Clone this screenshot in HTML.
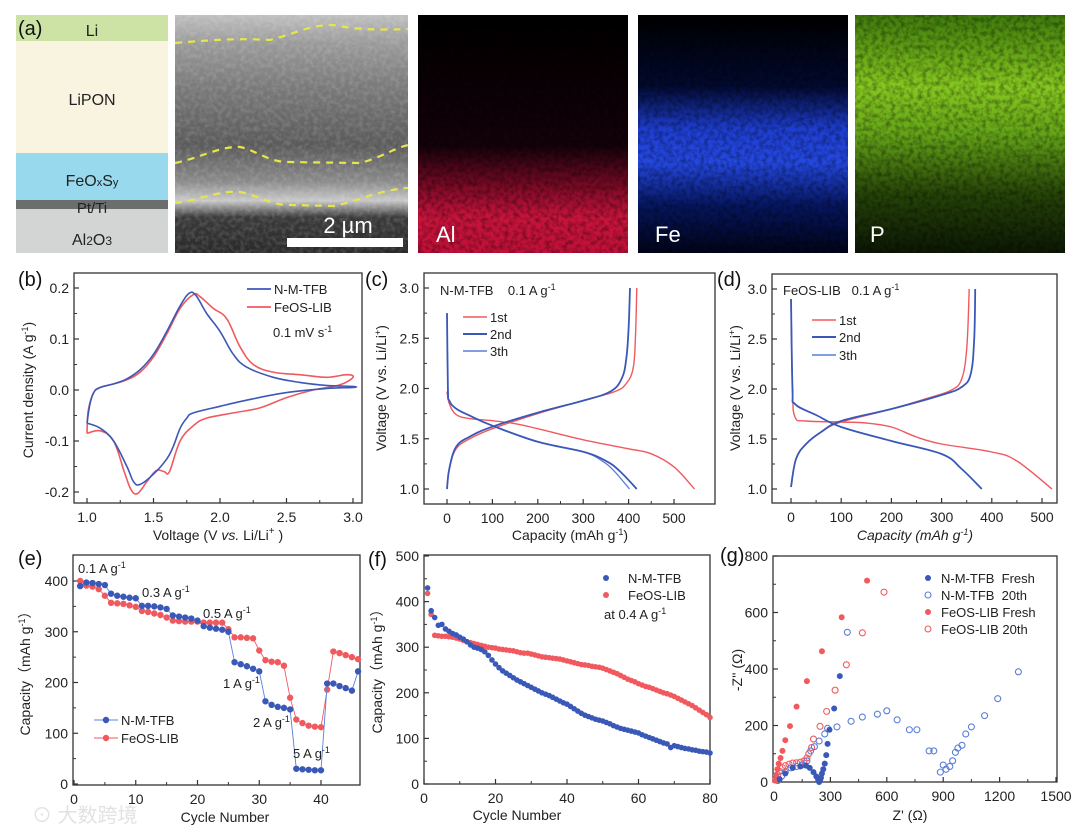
<!DOCTYPE html>
<html><head><meta charset="utf-8">
<style>
html,body{margin:0;padding:0;background:#fff;}
svg{display:block;font-family:"Liberation Sans","Noto Sans CJK SC",sans-serif;}
</style></head>
<body>
<svg id="fig" width="1080" height="831" viewBox="0 0 1080 831" xmlns="http://www.w3.org/2000/svg">
<defs>
<filter id="noise" x="0" y="0" width="100%" height="100%">
<feTurbulence type="fractalNoise" baseFrequency="0.22" numOctaves="2" seed="3" result="t"/>
<feColorMatrix in="t" type="matrix" values="0 0 0 0 0  0 0 0 0 0  0 0 0 0 0  0 0 0 1.6 -0.6" result="a"/>
<feComposite in="SourceGraphic" in2="a" operator="in"/>
</filter>
<linearGradient id="gAl" x1="0" y1="0" x2="0" y2="1">
<stop offset="0" stop-color="#000"/><stop offset="0.55" stop-color="#14020a"/><stop offset="0.72" stop-color="#7a0a26"/><stop offset="0.85" stop-color="#c8143c"/><stop offset="1" stop-color="#c01038"/>
</linearGradient>
<linearGradient id="gFe" x1="0" y1="0" x2="0" y2="1">
<stop offset="0" stop-color="#000"/><stop offset="0.3" stop-color="#020a30"/><stop offset="0.48" stop-color="#1e3ed0"/><stop offset="0.62" stop-color="#2448e0"/><stop offset="0.8" stop-color="#061660"/><stop offset="1" stop-color="#010418"/>
</linearGradient>
<linearGradient id="gP" x1="0" y1="0" x2="0" y2="1">
<stop offset="0" stop-color="#3e7a0c"/><stop offset="0.3" stop-color="#86c820"/><stop offset="0.5" stop-color="#64a418"/><stop offset="0.75" stop-color="#264408"/><stop offset="1" stop-color="#0c1804"/>
</linearGradient>
<linearGradient id="gSEM" x1="0" y1="0" x2="0" y2="1">
<stop offset="0" stop-color="#bfbfbf"/><stop offset="0.12" stop-color="#9a9a9a"/><stop offset="0.3" stop-color="#7a7a7a"/><stop offset="0.55" stop-color="#5a5a5a"/><stop offset="0.7" stop-color="#8a8a8a"/><stop offset="0.78" stop-color="#c8c8c8"/><stop offset="0.85" stop-color="#3a3a3a"/><stop offset="1" stop-color="#2a2a2a"/>
</linearGradient>
</defs>

<g>
<rect x="16" y="15" width="152" height="26" fill="#cde3a6"/>
<rect x="16" y="41" width="152" height="112" fill="#f8f4e0"/>
<rect x="16" y="153" width="152" height="47" fill="#99d9ee"/>
<rect x="16" y="200" width="152" height="9" fill="#6a6f6e"/>
<rect x="16" y="209" width="152" height="44" fill="#d3d5d4"/>
<text x="92" y="36" font-size="16" text-anchor="middle" fill="#222">Li</text>
<text x="92" y="105" font-size="16" text-anchor="middle" fill="#222">LiPON</text>
<text x="92" y="186" font-size="16" text-anchor="middle" fill="#222">FeO<tspan font-size="11">x</tspan>S<tspan font-size="11">y</tspan></text>
<text x="92" y="213" font-size="15" text-anchor="middle" fill="#222">Pt/Ti</text>
<text x="92" y="245" font-size="16" text-anchor="middle" fill="#222">Al<tspan font-size="12">2</tspan>O<tspan font-size="12">3</tspan></text>
<text x="18" y="35" font-size="20" fill="#111">(a)</text>
</g>

<g>
<rect x="175" y="15" width="233" height="238" fill="url(#gSEM)"/>
<rect x="175" y="15" width="233" height="238" fill="#fff" opacity="0.2" filter="url(#noise)"/>
<path d="M175 43 C210 40 240 38 270 40 C300 32 310 25 333 25 C360 30 380 30 408 29" stroke="#e6e64a" stroke-width="2.2" fill="none" stroke-dasharray="7,6"/>
<path d="M175 163 C200 158 220 146 240 147 C255 150 265 160 285 162 L360 163 C380 158 395 148 408 145" stroke="#e6e64a" stroke-width="2.2" fill="none" stroke-dasharray="7,6"/>
<path d="M175 203 C200 200 220 190 240 192 C260 196 270 205 290 205 L335 206 C360 200 380 190 408 188" stroke="#e6e64a" stroke-width="2.2" fill="none" stroke-dasharray="7,6"/>
<rect x="287" y="238" width="116" height="9" fill="#fff"/>
<text x="348" y="233" font-size="22" fill="#fff" text-anchor="middle">2 µm</text>
</g>

<g>
<rect x="418" y="15" width="210" height="238" fill="url(#gAl)"/>
<rect x="418" y="15" width="210" height="238" fill="#000" opacity="0.5" filter="url(#noise)"/>
<text x="436" y="242" font-size="22" fill="#fff">Al</text>
</g>
<g>
<rect x="638" y="15" width="210" height="238" fill="url(#gFe)"/>
<rect x="638" y="15" width="210" height="238" fill="#000" opacity="0.5" filter="url(#noise)"/>
<text x="655" y="242" font-size="22" fill="#fff">Fe</text>
</g>
<g>
<rect x="855" y="15" width="210" height="238" fill="url(#gP)"/>
<rect x="855" y="15" width="210" height="238" fill="#000" opacity="0.5" filter="url(#noise)"/>
<text x="870" y="242" font-size="22" fill="#fff">P</text>
</g>

<text x="32" y="822" font-size="20" fill="#e2e2e2">⊙ 大数跨境</text>
</svg>

<script>
// ===== Panel (b) CV data =====
const cvVoltTFB = [1.0,1.02,1.05,1.1,1.2,1.3,1.4,1.5,1.6,1.7,1.77,1.82,1.9,2.0,2.1,2.2,2.4,2.6,2.8,3.0,3.0,2.8,2.5,2.2,2.0,1.8,1.75,1.7,1.65,1.6,1.5,1.4,1.35,1.3,1.2,1.1,1.0];
const cvCurTFB  = [-0.065,-0.03,-0.005,0.005,0.012,0.022,0.04,0.07,0.115,0.165,0.19,0.185,0.15,0.115,0.07,0.045,0.025,0.015,0.009,0.007,0.005,0.003,-0.005,-0.02,-0.032,-0.045,-0.055,-0.075,-0.11,-0.135,-0.165,-0.185,-0.18,-0.15,-0.1,-0.075,-0.065];
const cvVoltLIB = [1.0,1.01,1.05,1.1,1.2,1.3,1.4,1.5,1.6,1.7,1.8,1.85,1.95,2.05,2.15,2.25,2.4,2.6,2.8,2.95,3.0,2.9,2.7,2.5,2.3,2.1,1.9,1.8,1.7,1.62,1.58,1.52,1.45,1.38,1.33,1.28,1.2,1.1,1.0];
const cvCurLIB  = [-0.085,-0.04,-0.005,0.005,0.012,0.02,0.035,0.065,0.11,0.16,0.187,0.183,0.16,0.14,0.085,0.05,0.035,0.03,0.025,0.03,0.025,0.01,0.0,-0.015,-0.035,-0.045,-0.055,-0.07,-0.1,-0.16,-0.16,-0.158,-0.18,-0.203,-0.195,-0.16,-0.1,-0.08,-0.085];
const bXTicks = [1.0,1.5,2.0,2.5,3.0];
const bYTicks = [-0.2,-0.1,0.0,0.1,0.2];

// ===== Panel (c) =====
const c1DisCap=[0,5,20,50,100,150,200,300,400,450,500,545];
const c1DisV  =[1.97,1.85,1.74,1.70,1.68,1.65,1.60,1.49,1.40,1.35,1.22,1.0];
const c1ChCap =[0,5,20,50,100,200,300,370,395,410,415,418];
const c1ChV   =[1.0,1.2,1.4,1.5,1.6,1.75,1.88,1.97,2.05,2.2,2.5,3.0];
const c2DisCap=[0,2,5,20,50,100,200,300,350,380,418];
const c2DisV  =[2.75,2.0,1.88,1.80,1.73,1.63,1.47,1.37,1.28,1.18,1.0];
const c3DisCap=[0,2,5,20,50,100,200,300,345,370,402];
const c3DisV  =[2.75,2.0,1.88,1.80,1.73,1.63,1.47,1.37,1.27,1.17,1.0];
const c2ChCap =[0,5,20,50,100,200,300,360,385,395,400,403];
const c2ChV   =[1.0,1.2,1.42,1.52,1.62,1.76,1.88,1.97,2.1,2.3,2.6,3.0];
const cdXTicks=[0,100,200,300,400,500];
const cdYTicks=[1.0,1.5,2.0,2.5,3.0];

// ===== Panel (d) =====
const d1DisCap=[0,3,8,30,100,150,200,250,300,400,450,520];
const d1DisV  =[2.9,2.0,1.72,1.68,1.67,1.66,1.62,1.52,1.45,1.37,1.28,1.0];
const d1ChCap =[0,10,30,60,100,200,280,320,340,350,355];
const d1ChV   =[1.02,1.3,1.45,1.57,1.67,1.80,1.92,1.99,2.1,2.4,3.0];
const d2DisCap=[0,3,8,50,100,200,300,340,380];
const d2DisV  =[2.9,2.0,1.85,1.74,1.62,1.48,1.35,1.2,1.0];
const d2ChCap =[0,10,30,60,100,200,300,340,358,365,367];
const d2ChV   =[1.02,1.3,1.45,1.57,1.68,1.80,1.94,2.02,2.15,2.5,3.0];

// ===== Panel (e) rate =====
const eCycles=[1,2,3,4,5,6,7,8,9,10,11,12,13,14,15,16,17,18,19,20,21,22,23,24,25,26,27,28,29,30,31,32,33,34,35,36,37,38,39,40,41,42,43,44,45,46];
const eTFB=[390,397,396,394,392,375,371,369,367,366,351,351,350,348,345,332,330,328,326,322,311,308,306,304,300,240,236,232,227,222,163,156,152,150,147,30,29,28,27,27,198,198,193,189,184,222];
const eLIB=[400,391,389,384,371,357,356,355,352,349,341,339,336,333,328,322,321,320,320,320,318,318,318,318,305,289,289,288,287,263,244,241,240,233,170,127,120,115,113,112,186,261,258,254,250,246];
const eXTicks=[0,10,20,30,40];
const eYTicks=[0,100,200,300,400];

// ===== Panel (f) cycling =====
const fTFB=[430,380,365,348,350,340,335,330,327,322,318,312,305,300,298,295,290,282,272,263,255,248,243,238,233,228,224,220,216,212,208,204,200,197,194,190,186,182,178,175,170,165,160,155,151,148,145,142,140,138,135,132,128,125,122,120,118,116,114,112,108,105,102,99,96,93,90,88,80,84,82,80,78,77,75,74,72,71,70,68];
const fLIB=[418,372,326,325,324,324,323,322,320,318,315,312,310,308,306,304,302,300,299,298,296,295,294,293,292,290,288,287,287,285,283,281,279,278,277,276,275,274,272,270,268,266,264,262,261,260,258,257,256,254,251,248,245,242,238,234,230,227,224,220,217,214,212,209,206,203,200,198,195,192,188,184,180,176,172,167,162,157,152,146];
const fXTicks=[0,20,40,60,80];
const fYTicks=[0,100,200,300,400,500];

// ===== Panel (g) EIS =====
const gTFBFreshRe=[30,60,100,140,170,190,210,225,235,240,245,250,255,262,270,278,285,295,320,350];
const gTFBFreshIm=[10,30,50,55,58,50,35,20,8,0,5,15,30,45,65,95,135,185,260,375];
const gTFB20Re=[20,40,60,90,120,150,175,195,215,240,270,285,335,410,470,550,600,655,720,760,825,850,885,900,915,935,950,965,978,1000,1020,1050,1120,1190,1300,390];
const gTFB20Im=[5,20,35,50,55,60,75,110,125,145,170,190,195,215,230,240,252,220,185,185,110,110,35,60,45,55,75,105,120,130,170,195,235,295,390,530];
const gLIBFreshRe=[5,10,18,25,35,45,60,85,120,175,255,360,495];
const gLIBFreshIm=[5,25,45,65,85,110,148,198,267,357,463,583,713];
const gLIB20Re=[10,20,30,45,60,80,100,120,140,160,175,185,200,210,245,280,325,385,470,585];
const gLIB20Im=[10,25,38,50,58,63,67,68,70,75,85,100,122,152,197,250,325,415,528,672];
const gXTicks=[0,300,600,900,1200,1500];
const gYTicks=[0,200,400,600,800];

const BLUE="#3a58b8", RED="#f05a5f", LBLUE="#5b7fd8";
const svg=document.getElementById('fig');
const NS="http://www.w3.org/2000/svg";
function mk(tag, attrs, parent){
  const e=document.createElementNS(NS,tag);
  for(const k in attrs) e.setAttribute(k,attrs[k]);
  (parent||svg).appendChild(e);
  return e;
}
function scale(d0,d1,p0,p1){return v=>p0+(v-d0)*(p1-p0)/(d1-d0);}

function axes(name, L,T,R,B, sx,sy, xt,yt, xfmt,yfmt){
  const g=mk('g',{});
  
  
  const fr=mk('rect',{x:L,y:T,width:R-L,height:B-T,fill:'none',stroke:'#333','stroke-width':1.3},g);
  
  
  xt.forEach((v,i)=>{
    const x=sx(v);
    mk('line',{x1:x,y1:B,x2:x,y2:B-5,stroke:'#333','stroke-width':1.2},g);
    if(i<xt.length-1){const xm=sx((v+xt[i+1])/2); mk('line',{x1:xm,y1:B,x2:xm,y2:B-3,stroke:'#333','stroke-width':1},g);}
    const t=mk('text',{x:x,y:B+19,'font-size':14,'text-anchor':'middle',fill:'#222'},g);
    t.textContent=xfmt(v);
    
    
  });
  yt.forEach((v,i)=>{
    const y=sy(v);
    mk('line',{x1:L,y1:y,x2:L+5,y2:y,stroke:'#333','stroke-width':1.2},g);
    if(i<yt.length-1){const ym=sy((v+yt[i+1])/2); mk('line',{x1:L,y1:ym,x2:L+3,y2:ym,stroke:'#333','stroke-width':1},g);}
    const t=mk('text',{x:L-5,y:y+5,'font-size':14,'text-anchor':'end',fill:'#222'},g);
    t.textContent=yfmt(v);
    
    
  });
  return g;
}
function line(g,xs,ys,sx,sy,color,w,name){
  const P=xs.map((x,i)=>[sx(x),sy(ys[i])]);
  let d='M'+P[0][0].toFixed(1)+','+P[0][1].toFixed(1);
  for(let i=0;i<P.length-1;i++){
    const p0=P[Math.max(0,i-1)],p1=P[i],p2=P[i+1],p3=P[Math.min(P.length-1,i+2)];
    const t=0.18;
    const c1=[p1[0]+(p2[0]-p0[0])*t,p1[1]+(p2[1]-p0[1])*t];
    const c2=[p2[0]-(p3[0]-p1[0])*t,p2[1]-(p3[1]-p1[1])*t];
    d+=' C'+c1[0].toFixed(1)+','+c1[1].toFixed(1)+' '+c2[0].toFixed(1)+','+c2[1].toFixed(1)+' '+p2[0].toFixed(1)+','+p2[1].toFixed(1);
  }
  const p=mk('path',{d:d,fill:'none',stroke:color,'stroke-width':w,'stroke-linejoin':'round'},g);
  
  
  return p;
}
function poly(g,xs,ys,sx,sy,color,w,name){
  const pts=xs.map((x,i)=>sx(x).toFixed(1)+','+sy(ys[i]).toFixed(1)).join(' ');
  const p=mk('polyline',{points:pts,fill:'none',stroke:color,'stroke-width':w},g);
  
  
}
function dots(g,xs,ys,sx,sy,color,r,open,name){
  const gg=mk('g',{},g);
  
  
  xs.forEach((x,i)=>{
    const c=mk('circle',{cx:sx(x),cy:sy(ys[i]),r:r,fill:open?'none':color,stroke:color,'stroke-width':open?1.1:0},gg);
    
    
  });
}
function text(x,y,s,size,opts,name){
  const t=mk('text',Object.assign({x:x,y:y,'font-size':size,fill:'#222'},opts||{}));
  t.innerHTML=s;
  
  
  return t;
}
function legLine(g,x,y,color,w,label,name){
  const l=mk('line',{x1:x,y1:y,x2:x+24,y2:y,stroke:color,'stroke-width':w},g);
  
  
  const t=mk('text',{x:x+27,y:y+5,'font-size':13,fill:'#222'},g);
  t.textContent=label;
  
  
}
const f1=v=>v.toFixed(1), f0=v=>String(v);

{
  const sx=scale(1.0,3.0,87,353), sy=scale(0.2,-0.2,288,492);
  const g=axes('cv-plot',74,273,362,503,sx,sy,bXTicks,bYTicks,f1,f1);
  line(g,cvVoltLIB,cvCurLIB,sx,sy,RED,1.6,'cv-curve-feos-lib');
  line(g,cvVoltTFB,cvCurTFB,sx,sy,BLUE,1.6,'cv-curve-n-m-tfb');
  legLine(g,247,289,BLUE,1.8,'N-M-TFB','legend-n-m-tfb');
  legLine(g,247,307,RED,1.8,'FeOS-LIB','legend-feos-lib');
  text(273,337,'0.1 mV s<tspan dy="-5" font-size="9">-1</tspan>',13,{},'scan-rate-label');
  text(18,286,'(b)',20,{fill:'#111'},'panel-label-b');
  text(218,540,'Voltage  (V <tspan font-style="italic">vs.</tspan> Li/Li<tspan dy="-6" font-size="10">+</tspan><tspan dy="6"> )</tspan>',14,{'text-anchor':'middle'},'x-axis-title-b');
  text(0,0,'Current density (A g<tspan dy="-5" font-size="9">-1</tspan><tspan dy="5">)</tspan>',14,{'text-anchor':'middle',transform:'translate(33,390) rotate(-90)'},'y-axis-title-b');
}
{
  const sx=scale(0,500,447,674), sy=scale(3.0,1.0,288,489);
  const g=axes('charge-discharge-plot-tfb',424,273,715,504,sx,sy,cdXTicks,cdYTicks,f0,f1);
  line(g,c1DisCap,c1DisV,sx,sy,RED,1.4,'curve-1st-discharge');
  line(g,c1ChCap,c1ChV,sx,sy,RED,1.4,'curve-1st-charge');
  line(g,c3DisCap,c3DisV,sx,sy,LBLUE,1.3,'curve-3th-discharge');
  line(g,c2DisCap,c2DisV,sx,sy,BLUE,1.8,'curve-2nd-discharge');
  line(g,c2ChCap,c2ChV,sx,sy,BLUE,1.8,'curve-2nd-charge');
  legLine(g,463,317,RED,1.6,'1st','legend-1st');
  legLine(g,463,334,BLUE,2,'2nd','legend-2nd');
  legLine(g,463,351,LBLUE,1.4,'3th','legend-3th');
  text(440,295,'N-M-TFB&#160;&#160;&#160; 0.1 A g<tspan dy="-5" font-size="9">-1</tspan>',13,{},'condition-label-c');
  text(365,286,'(c)',20,{fill:'#111'},'panel-label-c');
  text(570,540,'Capacity (mAh g<tspan dy="-5" font-size="9">-1</tspan><tspan dy="5">)</tspan>',14,{'text-anchor':'middle'},'x-axis-title-c');
  text(0,0,'Voltage  (V vs. Li/Li<tspan dy="-5" font-size="9">+</tspan><tspan dy="5">)</tspan>',14,{'text-anchor':'middle',transform:'translate(386,388) rotate(-90)'},'y-axis-title-c');
}
{
  const sx=scale(0,500,791,1042), sy=scale(3.0,1.0,289,489);
  const g=axes('charge-discharge-plot-lib',772,274,1057,503,sx,sy,cdXTicks,cdYTicks,f0,f1);
  line(g,d1DisCap,d1DisV,sx,sy,RED,1.4,'curve-1st-discharge');
  line(g,d1ChCap,d1ChV,sx,sy,RED,1.4,'curve-1st-charge');
  line(g,d2DisCap,d2DisV,sx,sy,BLUE,1.8,'curve-2nd-discharge');
  line(g,d2ChCap,d2ChV,sx,sy,BLUE,1.8,'curve-2nd-charge');
  legLine(g,812,320,RED,1.6,'1st','legend-1st');
  legLine(g,812,337,BLUE,2,'2nd','legend-2nd');
  legLine(g,812,355,LBLUE,1.4,'3th','legend-3th');
  text(783,295,'FeOS-LIB&#160;&#160; 0.1 A g<tspan dy="-5" font-size="9">-1</tspan>',13,{},'condition-label-d');
  text(717,286,'(d)',20,{fill:'#111'},'panel-label-d');
  text(915,540,'Capacity (mAh g<tspan dy="-5" font-size="9">-1</tspan><tspan dy="5">)</tspan>',14,{'text-anchor':'middle','font-style':'italic'},'x-axis-title-d');
  text(0,0,'Voltage  (V vs. Li/Li<tspan dy="-5" font-size="9">+</tspan><tspan dy="5">)</tspan>',14,{'text-anchor':'middle',transform:'translate(740,388) rotate(-90)'},'y-axis-title-d');
}
{
  const sx=scale(0,40,74,321), sy=scale(400,0,581,784);
  const g=axes('rate-plot',73,555,360,785,sx,sy,eXTicks,eYTicks,f0,f0);
  poly(g,eCycles,eLIB,sx,sy,RED,0.9,'rate-line-feos-lib');
  dots(g,eCycles,eLIB,sx,sy,RED,3.2,false,'rate-points-feos-lib');
  poly(g,eCycles,eTFB,sx,sy,LBLUE,0.9,'rate-line-n-m-tfb');
  dots(g,eCycles,eTFB,sx,sy,BLUE,3.2,false,'rate-points-n-m-tfb');
  const lg=mk('g',{});
  
  
  legLine(lg,94,720,LBLUE,1,'N-M-TFB','legend-n-m-tfb');
  mk('circle',{cx:106,cy:720,r:3.2,fill:BLUE},lg);
  legLine(lg,94,738,RED,1,'FeOS-LIB','legend-feos-lib');
  mk('circle',{cx:106,cy:738,r:3.2,fill:RED},lg);
  text(78,573,'0.1 A g<tspan dy="-5" font-size="9">-1</tspan>',13,{},'rate-label-0-1');
  text(142,597,'0.3 A g<tspan dy="-5" font-size="9">-1</tspan>',13,{},'rate-label-0-3');
  text(203,618,'0.5 A g<tspan dy="-5" font-size="9">-1</tspan>',13,{},'rate-label-0-5');
  text(223,688,'1 A g<tspan dy="-5" font-size="9">-1</tspan>',13,{},'rate-label-1');
  text(253,727,'2 A g<tspan dy="-5" font-size="9">-1</tspan>',13,{},'rate-label-2');
  text(293,758,'5 A g<tspan dy="-5" font-size="9">-1</tspan>',13,{},'rate-label-5');
  text(18,565,'(e)',20,{fill:'#111'},'panel-label-e');
  text(225,822,'Cycle Number',14,{'text-anchor':'middle'},'x-axis-title-e');
  text(0,0,'Capacity（mAh g<tspan dy="-5" font-size="9">-1</tspan><tspan dy="5">）</tspan>',14,{'text-anchor':'middle',transform:'translate(30,670) rotate(-90)'},'y-axis-title-e');
}
{
  const fCycles=fTFB.map((_,i)=>i+1);
  const sx=scale(0,80,424,710), sy=scale(500,0,556,784);
  const g=axes('cycling-plot',424,555,710,784,sx,sy,fXTicks,fYTicks,f0,f0);
  dots(g,fCycles,fLIB,sx,sy,RED,2.8,false,'cycling-points-feos-lib');
  dots(g,fCycles,fTFB,sx,sy,BLUE,2.8,false,'cycling-points-n-m-tfb');
  const c1=mk('circle',{cx:606,cy:578,r:3,fill:BLUE});
  
  
  text(628,583,'N-M-TFB',13,{},'legend-n-m-tfb');
  const c2=mk('circle',{cx:606,cy:595,r:3,fill:RED});
  
  
  text(628,600,'FeOS-LIB',13,{},'legend-feos-lib');
  text(604,619,'at 0.4 A g<tspan dy="-5" font-size="9">-1</tspan>',13,{},'current-label-f');
  text(368,566,'(f)',20,{fill:'#111'},'panel-label-f');
  text(517,820,'Cycle Number',14,{'text-anchor':'middle'},'x-axis-title-f');
  text(0,0,'Capacity（mAh g<tspan dy="-5" font-size="9">-1</tspan><tspan dy="5">）</tspan>',14,{'text-anchor':'middle',transform:'translate(382,668) rotate(-90)'},'y-axis-title-f');
}
{
  const sx=scale(0,1500,774,1056), sy=scale(800,0,556,782);
  const g=axes('nyquist-plot',773,556,1057,782,sx,sy,gXTicks,gYTicks,f0,f0);
  dots(g,gLIB20Re,gLIB20Im,sx,sy,RED,3,true,'eis-feos-lib-20th');
  dots(g,gTFB20Re,gTFB20Im,sx,sy,LBLUE,3,true,'eis-n-m-tfb-20th');
  dots(g,gLIBFreshRe,gLIBFreshIm,sx,sy,RED,3,false,'eis-feos-lib-fresh');
  dots(g,gTFBFreshRe,gTFBFreshIm,sx,sy,BLUE,3,false,'eis-n-m-tfb-fresh');
  const lx=928;
  [['N-M-TFB  Fresh',BLUE,false,578],['N-M-TFB  20th',LBLUE,true,595],['FeOS-LIB Fresh',RED,false,612],['FeOS-LIB 20th',RED,true,629]].forEach(function(it){
    const c=mk('circle',{cx:lx,cy:it[3],r:3,fill:it[2]?'none':it[1],stroke:it[1],'stroke-width':it[2]?1.1:0});
    
    
    text(lx+13,it[3]+5,it[0].replace('  ','&#160; '),13,{},'legend-entry');
  });
  text(720,562,'(g)',20,{fill:'#111'},'panel-label-g');
  text(910,820,"Z' (Ω)",14,{'text-anchor':'middle'},'x-axis-title-g');
  text(0,0,"-Z'' (Ω)",14,{'text-anchor':'middle',transform:'translate(742,670) rotate(-90)'},'y-axis-title-g');
}
</script>
</body></html>
